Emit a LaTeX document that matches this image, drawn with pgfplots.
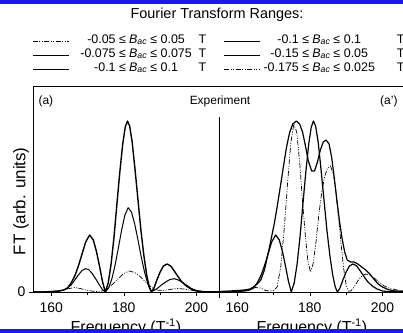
\documentclass[border=0pt]{standalone}
\usepackage{pgfplots}
\pgfplotsset{compat=1.18}
\usepackage{fontspec}
\setmainfont{Liberation Sans}
\definecolor{barblue}{RGB}{25,25,235}
\newcommand{\Bac}{\textit{B}\textsubscript{\textit{ac}}}
\newcommand{\entL}[2]{\makebox[154bp][l]{\hspace{10bp}\makebox[36bp][r]{#1}\makebox[14bp]{≤}\makebox[17bp]{\Bac}\makebox[14bp]{≤}\makebox[38bp][l]{#2}T}}
\newcommand{\entR}[2]{\makebox[150bp][l]{\hspace{2bp}\makebox[36bp][r]{#1}\makebox[14bp]{≤}\makebox[17bp]{\Bac}\makebox[14bp]{≤}\makebox[53bp][l]{#2}T}}

\pgfplotstableread{
f h
155 0
158 0
160 0.5
162 1
163.5 2
164.5 4
165.5 9
166.5 16
167.5 26
168.5 38
169.5 50
170.6 57
171.6 52
172.5 40
173.3 26
174.1 11
174.9 0
175.7 9
176.5 28
177.3 55
178.1 88
178.9 120
179.7 148
180.4 165
181 171
181.6 166
182.3 150
183.1 122
183.9 92
184.7 62
185.5 37
186.3 17
187 5
187.6 0
188.3 4
189.1 12
190 20
190.9 26
191.9 28
192.9 26
193.9 21
195 15
196 10
197.2 6
198.5 3
200 1
202 0.3
206.2 0
}\tabA

\pgfplotstableread{
f h
155 0
160 0.3
162 0.8
163.5 2
164.5 4
165.5 7
166.5 12
167.5 17
168.5 21.5
169.4 23.3
170.3 22.5
171.2 19
172.2 13.5
173.2 7.5
174.1 2.5
174.9 0
175.8 4
176.7 13
177.6 27
178.5 44
179.4 62
180.3 77
181.2 84.3
182.1 80
183 68
183.9 52
184.8 35
185.7 20
186.6 8
187.4 1.5
188 1
189 3
190.2 6.5
191.5 10
192.7 12.5
193.9 13.3
195 12
196.2 9.5
197.4 6.5
198.6 3.5
200 1.5
201.5 0.5
206.2 0
}\tabB

\pgfplotstableread{
f h
155 0.2
160 0.3
162 0.8
163.5 2
165 3.5
166.5 4.5
168 3.5
169.5 2
171 1
172.5 0.5
174 1
175.5 3.5
177 8
178.5 13.5
180 18.5
181.5 21
183 19.5
184.5 15.5
186 10
187.5 5
189 2
190.5 1.5
192 2
193.5 3
195 3.5
196.5 3
198 2
200 1
202 0.5
206.2 0.3
}\tabC

\pgfplotstableread{
f h
155 0.5
158 1
160 1.5
162 2
163.5 3
164.5 5
165.5 8
166.5 12
167.5 22
168.5 38
169.3 52
170.2 68
171 85
172 108
172.8 127
173.6 145
174.4 159
175.3 168
176.3 171
177.2 168
178 160
178.8 146
179.6 131
180.5 121
181.3 121
182.1 130
182.9 142
183.7 150
184.5 152
185.3 148
186 135
186.8 112
187.5 90
188.2 70
188.9 53
189.6 40
190.3 32
191.2 30
192.2 30
193.2 28
194.3 25
195.4 22
196.5 18
197.6 13
198.8 8
200 5
201.5 2.5
203 1.2
206.2 0.5
}\tabD

\pgfplotstableread{
f h
155 0.5
160 1
162 1.5
163.5 3
165 4.5
166.5 4
167.8 1.5
169 1
170 1.5
171 5
172 25
173 65
174 115
174.8 150
175.6 168
176.4 160
177.2 130
178 90
178.8 55
179.5 30
180.2 20
180.9 28
181.7 50
182.5 78
183.3 100
184.1 116
184.9 124
185.7 126
186.5 118
187.2 100
187.9 75
188.6 48
189.3 24
190 7
190.6 1
191.3 1
192.2 5
193.2 11
194.3 16
195.4 18
196.5 17
197.7 14
199 10
200.5 6
202 3.5
204 2
206.2 1
}\tabE

\pgfplotsset{
  panel/.style={
    scale only axis, width=186bp, height=206bp,
    xmin=155, xmax=206.2, ymin=0, ymax=206,
    axis x line*=bottom,
    axis line style={-, line width=0.8bp},
    xtick={160,180,200}, minor xtick={170,190},
    tick align=outside, major tick length=4bp, minor tick length=3bp,
    tick style={line width=0.5bp, black},
    /pgf/number format/assume math mode=true,
    xticklabel style={font=\fontsize{14}{16}\selectfont, yshift=-3bp},
    yticklabel style={font=\fontsize{14}{16}\selectfont},
    xlabel={Frequency (T\textsuperscript{-1})},
    xlabel style={font=\fontsize{16}{18}\selectfont, at={(axis description cs:0.5,-0.1966)}, anchor=base},
  },
  thickc/.style={black, line width=1.4bp, line join=round},
  medc/.style={black, line width=1.0bp, line join=round},
  rc/.style={black, line width=1.2bp, line join=round},
  dashc/.style={black, line width=0.7bp, dash pattern=on 5bp off 1.5bp on 1bp off 1.5bp on 1bp off 1.5bp},
}

\begin{document}
\begin{tikzpicture}
\useasboundingbox (0bp,0bp) rectangle (403bp,333bp);
\clip (0bp,0bp) rectangle (403bp,333bp);
\fill[white] (0bp,0bp) rectangle (403bp,333bp);

\begin{axis}[panel, at={(33bp,41bp)}, anchor=south west,
  axis y line*=left, ytick={0},
  ylabel={FT (arb. units)},
  ylabel style={font=\fontsize{17}{18}\selectfont, at={(axis description cs:-0.065,0.44)}, anchor=center, rotate=0},
  legend columns=2,
  legend image code/.code={\draw[#1] (0bp,0bp) -- (36bp,0bp);},
  legend style={draw=none, fill=none, inner sep=0pt, at={(-0.005,1.2524)}, anchor=north west,
    row sep=0pt, column sep=0pt, cells={anchor=west},
    nodes={inner sep=0pt, text height=9bp, text depth=5bp},
    font=\fontsize{12.5}{14}\selectfont},
]
\addlegendimage{dashc}
\addlegendentry{\entL{-0.05}{0.05}}
\addlegendimage{rc}
\addlegendentry{\entR{-0.1}{0.1}}
\addlegendimage{medc}
\addlegendentry{\entL{-0.075}{0.075}}
\addlegendimage{rc}
\addlegendentry{\entR{-0.15}{0.05}}
\addlegendimage{thickc}
\addlegendentry{\entL{-0.1}{0.1}}
\addlegendimage{dashc}
\addlegendentry{\entR{-0.175}{0.025}}
\addplot[dashc, forget plot] table[x=f,y=h] {\tabC};
\addplot[medc, forget plot] table[x=f,y=h] {\tabB};
\addplot[thickc, forget plot] table[x=f,y=h] {\tabA};
\end{axis}

\begin{axis}[panel, at={(219bp,41bp)}, anchor=south west,
  axis y line=none, ytick=\empty]
\addplot[dashc] table[x=f,y=h] {\tabE};
\addplot[rc] table[x=f,y=h] {\tabD};
\addplot[rc] table[x=f,y=h] {\tabA};
\end{axis}

\draw[line width=0.8bp] (33bp,247bp) -- (410bp,247bp);
\draw[line width=0.8bp] (219bp,35bp) -- (219bp,216bp);

\node[font=\fontsize{14.5}{16}\selectfont] at (217bp,318bp) {Fourier Transform Ranges:};
\node[font=\fontsize{12}{14}\selectfont, anchor=west] at (35bp,232bp) {(a)};
\node[font=\fontsize{12}{14}\selectfont] at (220bp,232bp) {Experiment};
\node[font=\fontsize{12}{14}\selectfont, anchor=east] at (401bp,232bp) {(a')};

\fill[barblue] (0bp,329bp) rectangle (403bp,333bp);
\fill[barblue] (0bp,0bp) rectangle (403bp,4bp);
\end{tikzpicture}
\end{document}
